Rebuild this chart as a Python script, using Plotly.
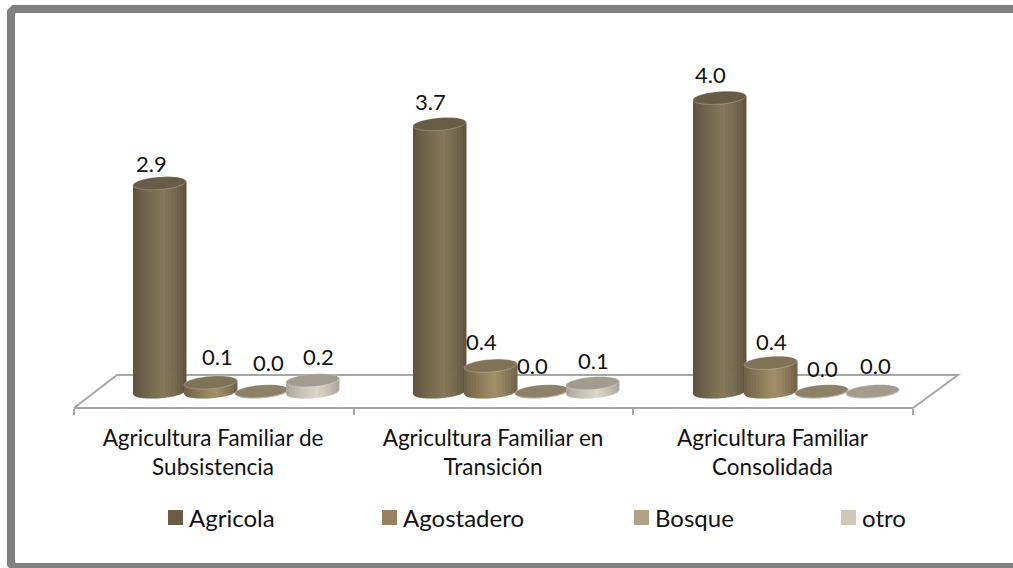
import math
import plotly.graph_objects as go

categories = ["Agricultura Familiar de<br>Subsistencia", "Agricultura Familiar en<br>Transición", "Agricultura Familiar<br>Consolidada"]
series_names = ["Agricola", "Agostadero", "Bosque", "otro"]
agricola = [2.86, 3.67, 4.03]
agostadero = [0.13, 0.36, 0.4]
bosque = [0.01, 0.01, 0.01]
otro = [0.16, 0.12, 0.01]
series_values = [agricola, agostadero, bosque, otro]

# layout (pixels)
W, H = 1013, 568
X_L, X_R = 74, 913
Y0, PX_PER_UNIT = 392, 73
AXIS_Y = 408
GROUP_PX = (X_R - X_L) / 3
COL_PITCH = 51
FIRST_COL = 159.5
COL_W = 53
A, B, TILT = 26.5, 6.3, 0.075

# value label centres (px)
label_px = [[(151, 163), (217.5, 356), (268, 362), (318, 356)],
            [(430, 101), (481, 341), (532, 365), (593, 360)],
            [(710, 74), (771, 341), (822, 368), (875, 365)]]
label_cx = [213, 493, 772.5]
legend_px = [(175.5, 517.5), (389.5, 517.5), (641.5, 517.5), (848.5, 517.5)]

palette = [
    dict(edge="#5d523d", mid="#85785b", top="#675c45", legend="#6b5d45"),
    dict(edge="#6c5f45", mid="#a28f6a", top="#7f7257", legend="#96825f"),
    dict(edge="#a89a80", mid="#c6b9a0", top="#8d8169", legend="#b0a286"),
    dict(edge="#a9a397", mid="#dcd6c9", top="#a29b8f", legend="#cfc7ba"),
]


def px_x(p):
    return (p - X_L) / GROUP_PX - 0.5


def px_y(p):
    return (Y0 - p) / PX_PER_UNIT


def lerp_hex(c1, c2, t):
    a = [int(c1[i:i + 2], 16) for i in (1, 3, 5)]
    b = [int(c2[i:i + 2], 16) for i in (1, 3, 5)]
    return "#%02x%02x%02x" % tuple(round(a[i] + (b[i] - a[i]) * t) for i in range(3))


def ell_half(dx):
    return B * max(0.0, 1 - (dx / A) ** 2) ** 0.5


def paper(pts, close=False):
    s = "M " + " L ".join("%.5f %.5f" % (x / W, 1 - y / H) for x, y in pts)
    return s + (" Z" if close else "")


fig = go.Figure()

# real bars carrying the data (the shaded cylinders sit over them)
for s, name in enumerate(series_names):
    xs = [px_x(FIRST_COL + g * 280 + s * COL_PITCH) for g in range(3)]
    fig.add_trace(go.Bar(x=xs, y=series_values[s], width=(COL_W - 2) / GROUP_PX, name=name,
                         marker=dict(color=palette[s]["legend"], line_width=0), showlegend=False,
                         hoverinfo="skip"))

shapes = []
# outer frame (runs past the right edge)
shapes.append(dict(type="path", xref="paper", yref="paper", layer="below", fillcolor="rgba(0,0,0,0)",
                   line=dict(color="#808080", width=8),
                   path=paper([(1030, 9), (14, 9), (11, 12), (11, 564), (14, 567), (1030, 567)])))
# floor
shapes.append(dict(type="path", xref="paper", yref="paper", layer="above", fillcolor="rgba(0,0,0,0)",
                   line=dict(color="#a6a6a6", width=2),
                   path=paper([(X_L, AXIS_Y), (117, 375), (958, 375), (X_R, AXIS_Y)])))

N = 18
for g in range(3):
    for s in range(4):
        v = series_values[s][g]
        cx = FIRST_COL + g * 280 + s * COL_PITCH
        top = Y0 - v * PX_PER_UNIT
        p = palette[s]
        for i in range(N):
            d0 = -A + 2 * A * i / N
            d1 = -A + 2 * A * (i + 1) / N
            dm = (d0 + d1) / 2
            t = (dm + A) / (2 * A)
            k = t / 0.58 if t < 0.58 else (1 - t) / 0.42
            col = lerp_hex(p["edge"], p["mid"], min(1, k ** 0.8))
            pts = []
            for d in (d0, d1):
                pts.append((cx + d + (0.5 if d == d1 else 0), top - TILT * d))
            for d in (d1, dm, d0):
                pts.append((cx + d + (0.5 if d == d1 else 0), Y0 - TILT * d + ell_half(d)))
            path = "M " + " L ".join("%.4f %.4f" % (px_x(a), px_y(b)) for a, b in pts) + " Z"
            shapes.append(dict(type="path", xref="x", yref="y", layer="above", path=path,
                               fillcolor=col, line_width=0))
        # top ellipse
        steps = 40
        pts = []
        for j in range(steps):
            th = 2 * math.pi * j / steps
            d = A * math.cos(th)
            pts.append((cx + d, top - TILT * d + B * math.sin(th)))
        path = "M " + " L ".join("%.4f %.4f" % (px_x(a), px_y(b)) for a, b in pts) + " Z"
        shapes.append(dict(type="path", xref="x", yref="y", layer="above", path=path,
                           fillcolor=p["top"], line=dict(color="rgba(255,255,255,0.35)", width=0.7)))

annotations = []
# value labels
for s in range(4):
    for g in range(3):
        annotations.append(dict(x=px_x(label_px[g][s][0]), y=px_y(label_px[g][s][1]), xref="x", yref="y",
                                text="%.1f" % series_values[s][g], showarrow=False,
                                xanchor="center", yanchor="middle",
                                font=dict(family="Lato", size=22, color="#111111")))

# legend
for s, name in enumerate(series_names):
    lx, ly = legend_px[s]
    fig.add_trace(go.Scatter(x=[px_x(lx)], y=[px_y(ly)], mode="markers", name=name,
                             marker=dict(symbol="square", size=15, color=palette[s]["legend"], line_width=0),
                             cliponaxis=False, showlegend=False, hoverinfo="skip"))
    annotations.append(dict(x=px_x(lx + 11), y=px_y(ly), xref="x", yref="y", text=name, showarrow=False,
                            xanchor="left", yanchor="middle", xshift=0,
                            font=dict(family="Lato", size=24, color="#111111")))

fig.update_layout(
    width=W, height=H, margin=dict(l=0, r=0, t=0, b=0), autosize=False,
    paper_bgcolor="white", plot_bgcolor="rgba(0,0,0,0)", barmode="overlay", showlegend=False,
    shapes=shapes, annotations=annotations,
    xaxis=dict(domain=[X_L / W, X_R / W], range=[-0.5, 2.5], anchor="free", position=(H - AXIS_Y) / H,
               tickmode="array", tickvals=[px_x(c) for c in label_cx], ticktext=categories, ticks="",
               showline=True, linecolor="#a6a6a6", linewidth=2, showgrid=False, zeroline=False,
               tickfont=dict(family="Lato", size=22.5, color="#111111"),
               ticklabelstandoff=10,
               minor=dict(tickmode="array", tickvals=[-0.5, 0.5, 1.5, 2.5], ticks="outside", ticklen=6,
                          tickcolor="#a6a6a6", tickwidth=2, showgrid=False)),
    yaxis=dict(domain=[0, 1], range=[(Y0 - H) / PX_PER_UNIT, Y0 / PX_PER_UNIT], visible=False),
)

fig.write_html("out.html", config={"displayModeBar": False},
               post_script="document.body.style.margin='0';document.body.style.overflow='hidden';")
